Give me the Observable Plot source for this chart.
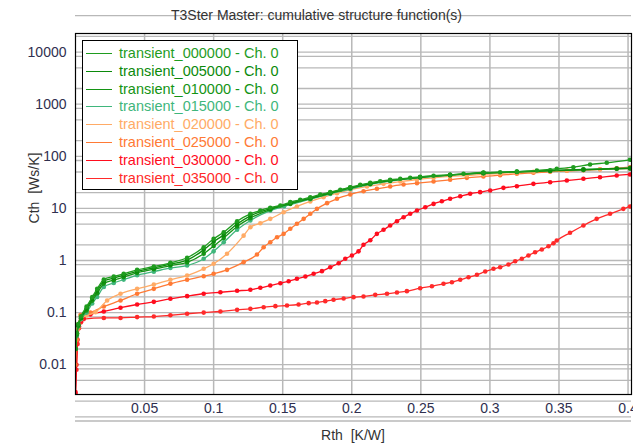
<!DOCTYPE html>
<html><head><meta charset="utf-8">
<script src="https://cdn.jsdelivr.net/npm/d3@7"></script>
<script src="https://cdn.jsdelivr.net/npm/@observablehq/plot@0.6"></script>
<style>
body{margin:0;background:#fff;}
#wrap{position:relative;width:633px;height:444px;font-family:"Liberation Sans",Arial,sans-serif;overflow:hidden;}
#wrap svg{position:absolute;left:0;top:0;}
.ttl{position:absolute;white-space:pre;color:#333;font-size:14px;}
#legend{position:absolute;left:82px;top:40px;width:216px;height:150px;border:1px solid #000;background:#fff;box-sizing:border-box;}
.lrow{position:absolute;left:0;height:18px;font-size:14.5px;white-space:pre;}
.lline{position:absolute;left:3px;width:26px;height:0;border-top:1.5px solid;top:9px;}
.ltext{position:absolute;left:36px;top:0;line-height:18px;}
</style></head>
<body><div id="wrap"></div>
<script>
// ---- data (Rth [K/W], Cth [Ws/K]) ----
const seriesNames = ["transient_000000 - Ch. 0","transient_005000 - Ch. 0","transient_010000 - Ch. 0","transient_015000 - Ch. 0","transient_020000 - Ch. 0","transient_025000 - Ch. 0","transient_030000 - Ch. 0","transient_035000 - Ch. 0"];
const seriesColors = ["#1f9c1f","#0b8a0b","#149414","#3fb67c","#ffab66","#ff7a35","#ff0d1e","#ff2a2a"];

const s000000 = [[0,0.02],[0.001,0.04],[0.002,0.06],[0.004,0.085],[0.008,0.13],[0.0121,0.198],[0.0157,0.286],[0.0205,0.432],[0.0277,0.493],[0.0349,0.556],[0.0446,0.662],[0.0567,0.767],[0.0687,0.904],[0.0808,1.13],[0.0928,1.8],[0.1,2.61],[0.1073,3.49],[0.117,5.68],[0.1266,7.87],[0.1338,9.12],[0.141,10.3],[0.1483,11.4],[0.1555,13.2],[0.1627,14.6],[0.17,16.4],[0.1772,18.5],[0.1844,20.5],[0.1917,22.8],[0.1989,25.5],[0.2061,28.4],[0.2134,31],[0.2206,33.3],[0.2278,35.4],[0.2351,37],[0.2423,38.7],[0.2495,40.4],[0.2592,42.3],[0.2712,44.2],[0.2809,46.1],[0.2953,48.9],[0.3074,49.5],[0.3195,50.4],[0.334,53.4],[0.3484,57.5],[0.3604,61.8],[0.3725,69.6],[0.3846,75],[0.4014,85.7]];
const s005000 = [[0,0.02],[0.001,0.04],[0.002,0.058],[0.004,0.08],[0.008,0.12],[0.0121,0.185],[0.0157,0.26],[0.0205,0.4],[0.0277,0.46],[0.0349,0.52],[0.0446,0.62],[0.0567,0.72],[0.0687,0.85],[0.0808,1.02],[0.0928,1.6],[0.1,2.3],[0.1073,3.1],[0.117,5.0],[0.1266,7.2],[0.141,9.9],[0.1555,12.6],[0.17,15.8],[0.1844,20],[0.1989,25],[0.2134,30],[0.2278,34.5],[0.2495,39.5],[0.2712,43.5],[0.2953,47.5],[0.3195,50],[0.3436,52.5],[0.3677,55],[0.3918,57.5],[0.4014,58.5]];
const s010000 = [[0,0.02],[0.001,0.038],[0.002,0.056],[0.004,0.078],[0.008,0.11],[0.0121,0.17],[0.0157,0.235],[0.0205,0.36],[0.0277,0.42],[0.0349,0.48],[0.0446,0.58],[0.0567,0.68],[0.0687,0.8],[0.0808,0.92],[0.0928,1.35],[0.1,1.9],[0.1073,2.7],[0.117,4.5],[0.1266,6.5],[0.141,9.5],[0.1555,12.2],[0.17,15.4],[0.1844,19.5],[0.1989,24.5],[0.2134,29.5],[0.2278,34],[0.2495,39.5],[0.2712,44],[0.2953,48],[0.3195,51],[0.3436,53.5],[0.3677,56],[0.3918,58.5],[0.4014,59.5]];
const s015000 = [[0,0.02],[0.001,0.036],[0.002,0.054],[0.004,0.075],[0.008,0.1],[0.0121,0.15],[0.0157,0.2],[0.0205,0.31],[0.0277,0.37],[0.0349,0.43],[0.0446,0.52],[0.0567,0.61],[0.0687,0.72],[0.0808,0.8],[0.0928,1.08],[0.1,1.5],[0.1073,2.24],[0.117,3.88],[0.1266,5.86],[0.141,9.1],[0.151,11],[0.17,15],[0.1844,19],[0.199,23.5],[0.2134,29],[0.2278,33.5],[0.2495,39],[0.2712,43.5],[0.2953,47.5],[0.3195,50.5],[0.3436,53],[0.3677,55.5],[0.4014,59]];
const s020000 = [[0,0.02],[0.001,0.04],[0.002,0.06],[0.004,0.075],[0.008,0.088],[0.0145,0.102],[0.0229,0.171],[0.0326,0.23],[0.0446,0.286],[0.0567,0.346],[0.0687,0.426],[0.0808,0.515],[0.0928,0.693],[0.1,0.865],[0.1097,1.35],[0.1217,3.0],[0.1266,4.36],[0.1338,5.2],[0.141,6.3],[0.1507,8.45],[0.1603,10.9],[0.17,13.6],[0.1796,16.4],[0.1893,19.6],[0.1989,22.8],[0.211,26.3],[0.223,29.6],[0.2351,32.8],[0.2472,35.9],[0.2592,38.6],[0.2712,41],[0.2833,42.8],[0.2953,44.8],[0.3074,46.8],[0.3195,48.9],[0.3315,50.4],[0.3436,51.8],[0.3557,53.4],[0.3677,55],[0.3797,55.8],[0.3918,57.5],[0.4014,58.3]];
const s025000 = [[0,0.01],[0.001,0.03],[0.002,0.05],[0.0036,0.09],[0.0108,0.1],[0.0205,0.131],[0.0326,0.171],[0.0446,0.23],[0.0567,0.286],[0.0687,0.357],[0.0808,0.426],[0.0928,0.5],[0.1,0.556],[0.1097,0.662],[0.1217,0.93],[0.1314,1.3],[0.1362,1.8],[0.141,2.24],[0.1459,2.8],[0.1507,3.25],[0.1555,4.06],[0.1603,5.06],[0.1652,6.3],[0.17,7.87],[0.1748,9.8],[0.1821,12.6],[0.1893,15.3],[0.1989,18.5],[0.2085,21.4],[0.2182,23.8],[0.2278,26.3],[0.2375,28.8],[0.2472,30.5],[0.2592,32.8],[0.2712,35.4],[0.2833,38.6],[0.2953,41],[0.3074,43.4],[0.3195,46.1],[0.3315,48.2],[0.3436,50.4],[0.3557,52.7],[0.3677,54.1],[0.3797,56.5],[0.3918,59.1],[0.4014,61.8]];
const s030000 = [[0,0.003],[0.0007,0.01],[0.0015,0.03],[0.0025,0.055],[0.004,0.07],[0.006,0.08],[0.0108,0.092],[0.0205,0.105],[0.0326,0.124],[0.0446,0.143],[0.0567,0.161],[0.0687,0.184],[0.0808,0.207],[0.0928,0.23],[0.1049,0.246],[0.117,0.262],[0.1266,0.274],[0.1338,0.299],[0.141,0.331],[0.1483,0.367],[0.1543,0.401],[0.1603,0.446],[0.1664,0.493],[0.1724,0.556],[0.1784,0.624],[0.1844,0.743],[0.1905,0.887],[0.1953,1.08],[0.2001,1.25],[0.2049,1.5],[0.2085,2.0],[0.2134,2.45],[0.2182,3.25],[0.223,3.88],[0.2278,4.7],[0.2327,5.68],[0.2375,6.78],[0.2423,7.87],[0.2472,9.12],[0.2532,10.5],[0.2592,12.2],[0.2652,13.7],[0.2712,15.3],[0.2785,17.1],[0.2857,19.1],[0.2929,20.5],[0.3002,22.1],[0.3098,24.8],[0.3195,26.7],[0.3315,29.6],[0.3436,31.8],[0.3557,34.3],[0.3677,37],[0.3797,39.7],[0.3918,42.8],[0.4014,44.8]];
const s035000 = [[0,0.0028],[0.0007,0.008],[0.0015,0.025],[0.0025,0.05],[0.004,0.065],[0.006,0.075],[0.0205,0.079],[0.0326,0.079],[0.0446,0.082],[0.0567,0.084],[0.0687,0.089],[0.0808,0.095],[0.0928,0.1],[0.1049,0.105],[0.117,0.113],[0.1266,0.118],[0.1362,0.127],[0.1447,0.133],[0.1531,0.137],[0.1615,0.143],[0.1688,0.152],[0.1748,0.156],[0.1808,0.166],[0.1868,0.176],[0.1941,0.187],[0.2013,0.198],[0.2085,0.204],[0.217,0.219],[0.2255,0.23],[0.2327,0.243],[0.2399,0.258],[0.2495,0.294],[0.258,0.321],[0.2664,0.357],[0.2725,0.383],[0.2785,0.426],[0.2845,0.478],[0.2906,0.532],[0.2966,0.615],[0.3026,0.693],[0.3074,0.743],[0.3134,0.838],[0.3183,0.97],[0.3231,1.08],[0.3279,1.25],[0.3327,1.44],[0.3376,1.63],[0.3424,1.88],[0.346,2.15],[0.3484,2.42],[0.358,3.4],[0.3677,4.7],[0.3773,6.3],[0.387,7.87],[0.3966,9.8],[0.4014,10.9]];

const xTicks = [0.05,0.1,0.15,0.2,0.25,0.3,0.35,0.4];
const xTickLabels = ["0.05","0.1","0.15","0.2","0.25","0.3","0.35","0.4"];
const yTicks = [0.01,0.1,1,10,100,1000,10000];
const yTickLabels = ["0.01","0.1","1","10","100","1000","10000"];
const gridMultipliers = [0.83,1,2,5];
const gridDecades = [0.001,0.01,0.1,1,10,100,1000,10000];

const allSeries = [s000000,s005000,s010000,s015000,s020000,s025000,s030000,s035000];
const rows = [];
allSeries.forEach((s,i)=>s.forEach(([x,c])=>rows.push({x,c,k:i})));
const yGrid = [];
gridDecades.forEach(d=>gridMultipliers.forEach(m=>yGrid.push(d*m)));

const marks = [
  Plot.gridY(yGrid,{stroke:"#b8b8b8",strokeOpacity:1,strokeWidth:1.3}),
  Plot.gridX(xTicks,{stroke:"#b8b8b8",strokeOpacity:1,strokeWidth:1.5}),
];
for (let i = allSeries.length-1; i>=0; i--) {
  const d = rows.filter(r=>r.k===i);
  marks.push(Plot.line(d,{x:"x",y:"c",stroke:seriesColors[i],strokeWidth:1.3,curve:"monotone-x",clip:true}));
  marks.push(Plot.dot(d,{x:"x",y:"c",fill:seriesColors[i],r:2.3,clip:true}));
}
marks.push(Plot.axisX({ticks:xTicks,tickFormat:(v)=>xTickLabels[xTicks.indexOf(v)],tickSize:0,tickPadding:9,fontSize:14,color:"#2f2f4f",label:null}));
marks.push(Plot.axisY({ticks:yTicks,tickFormat:(v)=>yTickLabels[yTicks.indexOf(v)],tickSize:0,tickPadding:9,fontSize:14,color:"#2f2f4f",label:null}));
marks.push(Plot.frame({stroke:"#000",strokeWidth:1.2}));

const chart = Plot.plot({
  width:633,height:444,
  marginLeft:75,marginRight:2,marginTop:33,marginBottom:50,
  style:{fontFamily:"'Liberation Sans',Arial,sans-serif",background:"transparent"},
  x:{domain:[0,0.4025]},
  y:{type:"log",domain:[0.00268,22750]},
  marks
});
const wrap = document.getElementById("wrap");
wrap.appendChild(chart);

function addText(txt, css){const d=document.createElement("div");d.className="ttl";d.textContent=txt;Object.assign(d.style,css);wrap.appendChild(d);return d;}
addText("T3Ster Master: cumulative structure function(s)",{left:"0px",width:"633px",textAlign:"center",top:"7px"});
addText("Rth  [K/W]",{left:"75px",width:"556px",textAlign:"center",top:"427px"});
addText("Cth  [Ws/K]",{left:"-16px",top:"180px",width:"100px",textAlign:"center",transform:"rotate(-90deg)"});

const leg = document.createElement("div"); leg.id="legend"; wrap.appendChild(leg);
seriesNames.forEach((n,i)=>{
  const r=document.createElement("div");r.className="lrow";r.style.top=(3+17.8*i)+"px";r.style.width="210px";
  const l=document.createElement("div");l.className="lline";l.style.borderColor=seriesColors[i];
  const t=document.createElement("div");t.className="ltext";t.textContent=n;t.style.color=seriesColors[i];
  r.appendChild(l);r.appendChild(t);leg.appendChild(r);
});
</script></body></html>
